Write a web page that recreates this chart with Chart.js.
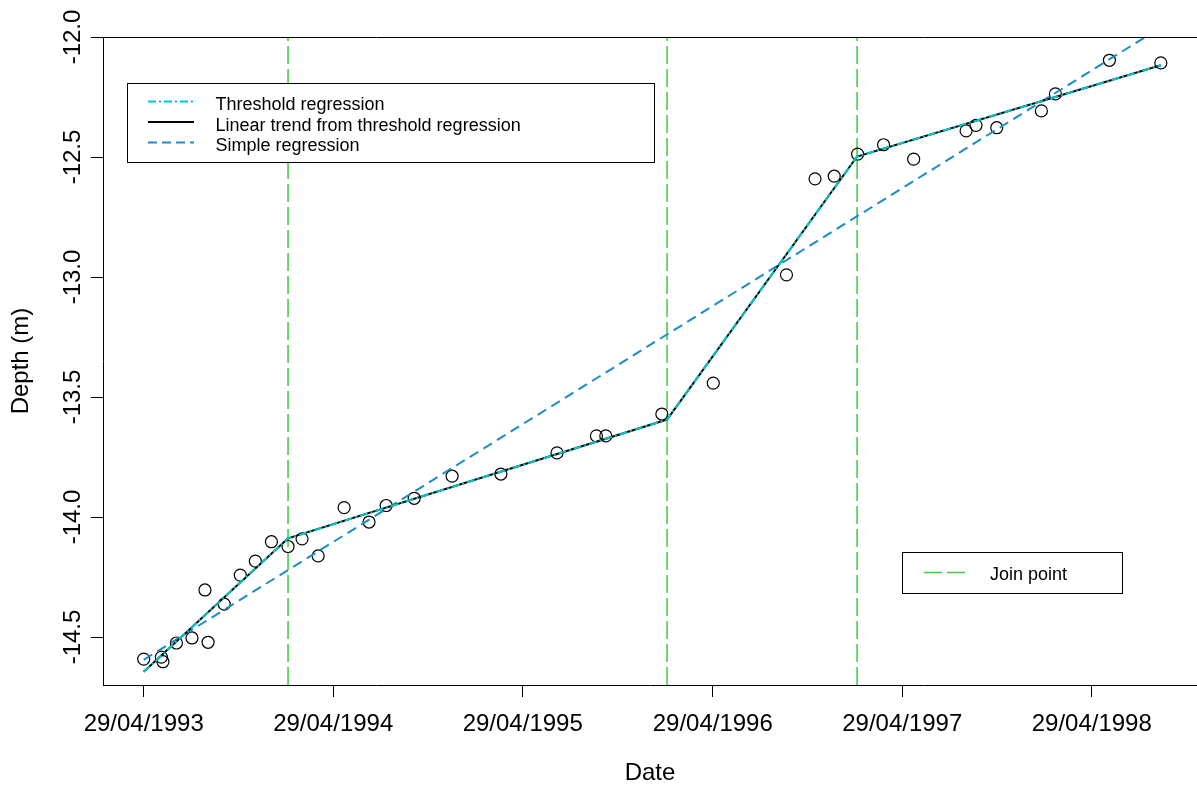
<!DOCTYPE html>
<html>
<head>
<meta charset="utf-8">
<title>Depth over time</title>
<script src="https://cdn.jsdelivr.net/npm/chart.js@4.4.1/dist/chart.umd.min.js"></script>
<style>
  html, body { margin: 0; padding: 0; overflow: hidden; background: #ffffff; }
  #c { display: block; }
</style>
</head>
<body>
<canvas id="c" width="1197" height="794"></canvas>
<script>
// Observed depths (m) and their sampling dates
const sampleDates = [
  '1993-04-29', '1993-06-02', '1993-06-05', '1993-07-01', '1993-07-31', '1993-08-31',
  '1993-08-25', '1993-10-01', '1993-11-01', '1993-11-30', '1993-12-31', '1994-02-01',
  '1994-02-28', '1994-03-31', '1994-05-20', '1994-07-07', '1994-08-09', '1994-10-02',
  '1994-12-14', '1995-03-18', '1995-07-04', '1995-09-18', '1995-10-06', '1996-01-22',
  '1996-04-30', '1996-09-18', '1996-11-12', '1996-12-19', '1997-02-02', '1997-03-24',
  '1997-05-21', '1997-08-30', '1997-09-18', '1997-10-28', '1998-01-22', '1998-02-18',
  '1998-06-02', '1998-09-09'
];
const sampleDepth = [
  -14.592, -14.584, -14.603, -14.525, -14.504, -14.522,
  -14.304, -14.363, -14.242, -14.184, -14.103, -14.123,
  -14.091, -14.162, -13.961, -14.021, -13.952, -13.922,
  -13.830, -13.821, -13.733, -13.662, -13.662, -13.571,
  -13.442, -12.991, -12.591, -12.580, -12.488, -12.449,
  -12.509, -12.391, -12.368, -12.378, -12.308, -12.237,
  -12.097, -12.108
];

// Threshold regression fit (segments meet at the join points)
const thresholdDates = ['1993-04-29', '1994-02-01', '1996-02-01', '1997-02-01', '1998-09-09'];
const thresholdDepth = [-14.645, -14.089, -13.594, -12.498, -12.118];

// Linear trend taken from the threshold regression
const trendDates = ['1993-04-29', '1994-02-01', '1996-02-01', '1997-02-01', '1998-09-09'];
const trendDepth = [-14.645, -14.089, -13.594, -12.498, -12.118];

// Ordinary least-squares line over the whole record
const simpleDates = ['1993-04-29', '1998-09-09'];
const simpleDepth = [-14.595, -11.960];

// Dates where the regression segments join
const joinDates = ['1994-02-01', '1996-02-01', '1997-02-01'];

// Axis ticks
const xTickLabels = ['29/04/1993', '29/04/1994', '29/04/1995', '29/04/1996', '29/04/1997', '29/04/1998'];
const yTickValues = [-14.5, -14.0, -13.5, -13.0, -12.5, -12.0];

const ORIGIN = Date.UTC(1993, 3, 29);
function dayOfIso(s) {
  const [y, m, d] = s.split('-').map(Number);
  return (Date.UTC(y, m - 1, d) - ORIGIN) / 86400000;
}
function dayOfLabel(s) {
  const [d, m, y] = s.split('/').map(Number);
  return (Date.UTC(y, m - 1, d) - ORIGIN) / 86400000;
}
function pairs(dates, values) {
  return dates.map((s, i) => ({ x: dayOfIso(s), y: values[i] }));
}

const Y_MIN = -14.7, Y_MAX = -12.0;
const FONT = '"Liberation Sans", Arial, Helvetica, sans-serif';

const COL_THRESH = '#00c8c8';
const COL_TREND = '#000000';
const COL_SIMPLE = '#1a8bcb';
const COL_JOIN = '#3ccc3c';

const joinSets = joinDates.map(s => ({
  label: 'Join point',
  data: [{ x: dayOfIso(s), y: Y_MIN }, { x: dayOfIso(s), y: Y_MAX }],
  showLine: true,
  borderColor: COL_JOIN,
  borderWidth: 1.5,
  borderDash: [18, 5],
  pointRadius: 0,
  order: 5
}));

// Legends, top frame line and rotated y tick labels
const decorations = {
  id: 'decorations',
  afterDraw(chart) {
    const ctx = chart.ctx;
    const a = chart.chartArea;
    const ys = chart.scales.y;
    ctx.save();

    // top edge of the plot frame (the plot runs on past the right edge)
    ctx.strokeStyle = '#000';
    ctx.lineWidth = 1;
    ctx.beginPath();
    ctx.moveTo(Math.round(a.left), Math.round(a.top) + 0.5);
    ctx.lineTo(chart.width, Math.round(a.top) + 0.5);
    ctx.stroke();

    // y tick labels, written along the axis
    ctx.fillStyle = '#000';
    ctx.font = '24px ' + FONT;
    ctx.textAlign = 'center';
    ctx.textBaseline = 'alphabetic';
    yTickValues.forEach(v => {
      const py = ys.getPixelForValue(v);
      ctx.save();
      ctx.translate(80, py);
      ctx.rotate(-Math.PI / 2);
      ctx.fillText(v.toFixed(1), 0, 0);
      ctx.restore();
    });

    // main legend
    const rows = [
      { text: 'Threshold regression', color: COL_THRESH, dash: [8, 3, 2, 3], width: 2 },
      { text: 'Linear trend from threshold regression', color: COL_TREND, dash: [], width: 2 },
      { text: 'Simple regression', color: COL_SIMPLE, dash: [9, 5], width: 2 }
    ];
    ctx.fillStyle = '#fff';
    ctx.fillRect(127.5, 83.5, 527, 79);
    ctx.strokeStyle = '#000';
    ctx.lineWidth = 1;
    ctx.setLineDash([]);
    ctx.strokeRect(127.5, 83.5, 527, 79);
    ctx.font = '18px ' + FONT;
    ctx.textAlign = 'left';
    ctx.textBaseline = 'alphabetic';
    rows.forEach((r, i) => {
      const ly = 101.5 + i * 20.5;
      ctx.beginPath();
      ctx.setLineDash(r.dash);
      ctx.strokeStyle = r.color;
      ctx.lineWidth = r.width;
      ctx.moveTo(148, ly);
      ctx.lineTo(194, ly);
      ctx.stroke();
      ctx.setLineDash([]);
      ctx.fillStyle = '#000';
      ctx.fillText(r.text, 215.5, 110 + i * 20.5);
    });

    // join point legend
    ctx.fillStyle = '#fff';
    ctx.fillRect(902.5, 552.5, 220, 41);
    ctx.strokeStyle = '#000';
    ctx.lineWidth = 1;
    ctx.strokeRect(902.5, 552.5, 220, 41);
    ctx.beginPath();
    ctx.setLineDash([18, 5]);
    ctx.strokeStyle = COL_JOIN;
    ctx.lineWidth = 1.5;
    ctx.moveTo(924, 572.5);
    ctx.lineTo(970, 572.5);
    ctx.stroke();
    ctx.setLineDash([]);
    ctx.fillStyle = '#000';
    ctx.fillText('Join point', 990, 580);

    ctx.restore();
  }
};

new Chart(document.getElementById('c'), {
  type: 'scatter',
  data: {
    datasets: [
      {
        label: 'Depth',
        data: pairs(sampleDates, sampleDepth),
        showLine: false,
        pointStyle: 'circle',
        pointRadius: 6,
        pointBorderWidth: 1.2,
        pointBorderColor: '#000',
        pointBackgroundColor: 'rgba(0,0,0,0)',
        order: 4
      },
      {
        label: 'Threshold regression',
        data: pairs(thresholdDates, thresholdDepth),
        showLine: true,
        borderColor: COL_THRESH,
        borderWidth: 2,
        borderDash: [8, 3, 2, 3],
        pointRadius: 0,
        order: 1
      },
      {
        label: 'Linear trend from threshold regression',
        data: pairs(trendDates, trendDepth),
        showLine: true,
        borderColor: COL_TREND,
        borderWidth: 2,
        pointRadius: 0,
        order: 2
      },
      {
        label: 'Simple regression',
        data: pairs(simpleDates, simpleDepth),
        showLine: true,
        borderColor: COL_SIMPLE,
        borderWidth: 2,
        borderDash: [10, 6],
        pointRadius: 0,
        order: 3
      },
      ...joinSets
    ]
  },
  options: {
    responsive: false,
    maintainAspectRatio: false,
    devicePixelRatio: 1,
    animation: false,
    layout: { autoPadding: false, padding: { top: 37, right: 0, left: 0, bottom: 0 } },
    plugins: {
      legend: { display: false },
      tooltip: { enabled: false }
    },
    scales: {
      x: {
        type: 'linear',
        min: -78.4,
        max: 2028.7,
        afterBuildTicks: s => { s.ticks = xTickLabels.map(l => ({ value: dayOfLabel(l) })); },
        afterFit: s => { s.height = 109; },
        ticks: {
          autoSkip: false,
          maxRotation: 0,
          minRotation: 0,
          padding: 13,
          color: '#000',
          font: { family: FONT, size: 24 },
          callback: (v, i) => xTickLabels[i]
        },
        grid: { drawOnChartArea: false, drawTicks: true, tickLength: 12, color: '#000', lineWidth: 1 },
        border: { display: true, color: '#000', width: 1 },
        title: {
          display: true,
          text: 'Date',
          color: '#000',
          font: { family: FONT, size: 24 },
          padding: { top: 0, bottom: 6 }
        }
      },
      y: {
        type: 'linear',
        min: Y_MIN,
        max: Y_MAX,
        afterBuildTicks: s => { s.ticks = yTickValues.map(v => ({ value: v })); },
        afterFit: s => { s.width = 103; },
        ticks: { display: false },
        grid: { drawOnChartArea: false, drawTicks: true, tickLength: 12, color: '#000', lineWidth: 1 },
        border: { display: true, color: '#000', width: 1 },
        title: {
          display: true,
          text: 'Depth (m)',
          color: '#000',
          font: { family: FONT, size: 24 },
          padding: { top: 7, bottom: 0 }
        }
      }
    }
  },
  plugins: [decorations]
});
</script>
</body>
</html>
